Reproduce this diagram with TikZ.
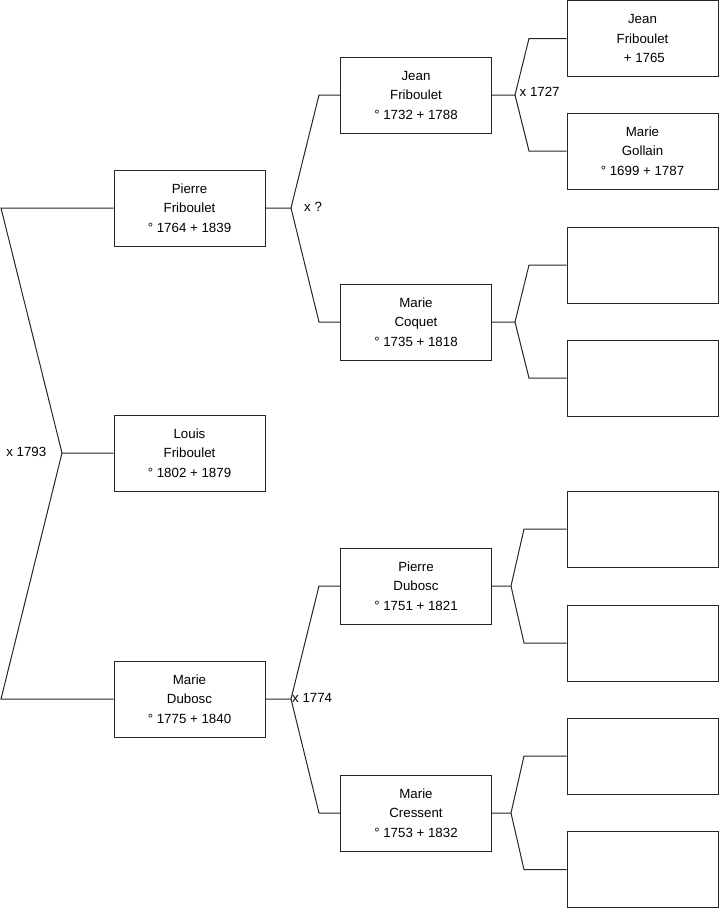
\documentclass[tikz,border=0pt]{standalone}
\usepackage{fontspec}
\setmainfont{Liberation Sans}
\begin{document}
\begin{tikzpicture}[x=1pt,y=-1pt,
  person/.style={draw=black!85, line width=1pt, minimum width=151pt, minimum height=76pt, inner sep=0pt, align=center, font=\fontsize{13.3}{19.5}\selectfont},
  link/.style={draw=black!85, line width=1pt},
  marr/.style={font=\fontsize{13.3}{15}\selectfont, inner sep=0pt}]
\useasboundingbox (0,0) rectangle (719,908);
% generation 1
\node[person] (pierre) at (189.5,208) {Pierre\\Friboulet\\° 1764 + 1839};
\node[person] (louis) at (189.5,453) {Louis\\Friboulet\\° 1802 + 1879};
\node[person] (mdubosc) at (189.5,699) {Marie\\Dubosc\\° 1775 + 1840};
% generation 2
\node[person] (jean) at (416,95) {Jean\\Friboulet\\° 1732 + 1788};
\node[person] (coquet) at (416,322) {Marie\\Coquet\\° 1735 + 1818};
\node[person] (pdubosc) at (416,586) {Pierre\\Dubosc\\° 1751 + 1821};
\node[person] (cressent) at (416,813) {Marie\\Cressent\\° 1753 + 1832};
% generation 3
\node[person] (jean2) at (642.5,38.5) {Jean\\Friboulet\\\ + 1765};
\node[person] (gollain) at (642.5,151) {Marie\\Gollain\\° 1699 + 1787};
\node[person] (e3) at (642.5,265) {};
\node[person] (e4) at (642.5,378) {};
\node[person] (e5) at (642.5,529) {};
\node[person] (e6) at (642.5,643) {};
\node[person] (e7) at (642.5,756) {};
\node[person] (e8) at (642.5,869.5) {};
% junction coordinates
\coordinate (jl) at (62,453);
\coordinate (jlt) at (1,208);
\coordinate (jlb) at (1,699);
\coordinate (jp) at (291,208);
\coordinate (jpt) at (319,95);
\coordinate (jpb) at (319,322);
\coordinate (jm) at (291,699);
\coordinate (jmt) at (319,586);
\coordinate (jmb) at (319,813);
\coordinate (jj) at (515,95);
\coordinate (jjt) at (529,38.5);
\coordinate (jjb) at (529,151);
\coordinate (jc) at (515,322);
\coordinate (jct) at (529,265);
\coordinate (jcb) at (529,378);
\coordinate (jd) at (511,586);
\coordinate (jdt) at (524,529);
\coordinate (jdb) at (524,643);
\coordinate (jr) at (511,813);
\coordinate (jrt) at (524,756);
\coordinate (jrb) at (524,869.5);
% connectors
\draw[link] (louis.west) -- (jl) -- (jlt) -- (pierre.west);
\draw[link] (jl) -- (jlb) -- (mdubosc.west);
\draw[link] (pierre.east) -- (jp) -- (jpt) -- (jean.west);
\draw[link] (jp) -- (jpb) -- (coquet.west);
\draw[link] (mdubosc.east) -- (jm) -- (jmt) -- (pdubosc.west);
\draw[link] (jm) -- (jmb) -- (cressent.west);
\draw[link] (jean.east) -- (jj) -- (jjt) -- (jean2.west);
\draw[link] (jj) -- (jjb) -- (gollain.west);
\draw[link] (coquet.east) -- (jc) -- (jct) -- (e3.west);
\draw[link] (jc) -- (jcb) -- (e4.west);
\draw[link] (pdubosc.east) -- (jd) -- (jdt) -- (e5.west);
\draw[link] (jd) -- (jdb) -- (e6.west);
\draw[link] (cressent.east) -- (jr) -- (jrt) -- (e7.west);
\draw[link] (jr) -- (jrb) -- (e8.west);
% marriage labels
\node[marr, anchor=east] (m1793) at (46.5,452) {x 1793};
\node[marr, anchor=west] (mq) at (304,207) {x ?};
\node[marr, anchor=west] (m1774) at (292,698) {x 1774};
\node[marr, anchor=west] (m1727) at (519.5,92) {x 1727};
\end{tikzpicture}
\end{document}
